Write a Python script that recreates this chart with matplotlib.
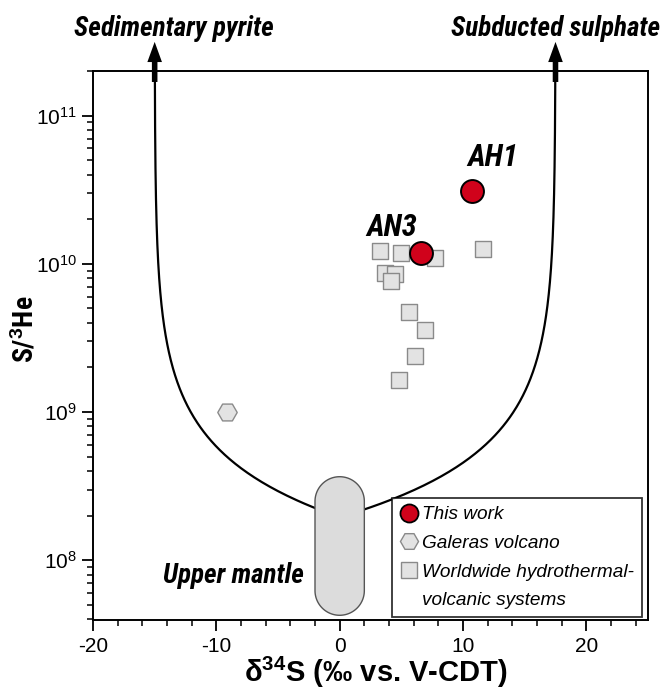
import numpy as np
import matplotlib
matplotlib.use("Agg")
import matplotlib.pyplot as plt
import matplotlib.transforms as mtransforms
from matplotlib.lines import Line2D
from matplotlib.patches import Polygon
from matplotlib.ticker import MultipleLocator

plt.rcParams["font.family"] = ["Liberation Sans", "DejaVu Sans"]
plt.rcParams["axes.unicode_minus"] = False
plt.rcParams["mathtext.fontset"] = "custom"
plt.rcParams["mathtext.rm"] = "Liberation Sans"
plt.rcParams["mathtext.it"] = "Liberation Sans:italic"
plt.rcParams["mathtext.bf"] = "Liberation Sans:bold"
NARROW = ["Roboto Condensed", "Liberation Sans", "DejaVu Sans"]

# worldwide hydrothermal-volcanic systems
world_d34s = [3.3, 5.0, 7.7, 11.6, 3.7, 4.5, 4.2, 5.6, 6.9, 6.1, 4.8]
world_she = [1.22e10, 1.19e10, 1.10e10, 1.26e10, 8.7e9, 8.5e9, 7.6e9,
             4.7e9, 3.6e9, 2.4e9, 1.65e9]

# Galeras volcano
galeras_d34s = [-9.1]
galeras_she = [1.0e9]

# this work
sample_names = ["AN3", "AH1"]
sample_d34s = [6.6, 10.7]
sample_she = [1.19e10, 3.1e10]

# end members for the mixing curves
mantle_d34s = 0.0
mantle_she = 1.95e8
pyrite_d34s = -15.0
sulphate_d34s = 17.5

# upper mantle field
mantle_field_d34s = (-2.0, 2.0)
mantle_field_she = (4.25e7, 3.66e8)

XLIM = (-20, 25)
YLIM = (3.95e7, 2.0e11)

RED = "#d0021b"
GREY = "#e3e3e3"
EDGE = "#8a8a8a"

fig = plt.figure(figsize=(6.63, 6.91), dpi=100)
ax = fig.add_axes([93 / 663, 71 / 691, 555 / 663, 549 / 691])
ax.set_xlim(*XLIM)
ax.set_yscale("log")
ax.set_ylim(*YLIM)

# two-component mixing: mantle + crustal sulphur source
R = np.logspace(np.log10(mantle_she), np.log10(YLIM[1]) + 0.05, 400)
left = pyrite_d34s + (mantle_d34s - pyrite_d34s) * mantle_she / R
right = sulphate_d34s + (mantle_d34s - sulphate_d34s) * mantle_she / R
ax.plot(np.r_[left[::-1], right], np.r_[R[::-1], R], color="black", lw=1.6, zorder=2)

# arrows pointing to the crustal end members
btrans = mtransforms.blended_transform_factory(ax.transData, ax.transAxes)
for xe in (pyrite_d34s, sulphate_d34s):
    ax.annotate("", xy=(xe, 1.053), xytext=(xe, 0.98), xycoords=btrans,
                arrowprops=dict(arrowstyle="simple,head_length=1.45,head_width=1.05,tail_width=0.4",
                                fc="black", ec="black", shrinkA=0, shrinkB=0, lw=0),
                annotation_clip=False, zorder=5)
ax.annotate("Sedimentary pyrite", xy=(pyrite_d34s, 1.078), xycoords=btrans,
            xytext=(14, 0), textcoords="offset points", ha="center", va="center",
            fontsize=19.5, fontweight="bold", style="italic", family=NARROW,
            annotation_clip=False)
ax.annotate("Subducted sulphate", xy=(sulphate_d34s, 1.078), xycoords=btrans,
            ha="center", va="center", fontsize=19.5, fontweight="bold",
            style="italic", family=NARROW, annotation_clip=False)

# upper mantle pill, built in axes fraction so the caps stay round
fig.canvas.draw()
to_axes = ax.transData + ax.transAxes.inverted()
(x0, y0), (x1, y1) = to_axes.transform([(mantle_field_d34s[0], mantle_field_she[0]),
                                        (mantle_field_d34s[1], mantle_field_she[1])])
bb = ax.get_window_extent()
rx = (x1 - x0) / 2
ry = rx * bb.width / bb.height
xc = (x0 + x1) / 2
t = np.linspace(0, np.pi, 60)
top = np.c_[xc + rx * np.cos(t), y1 - ry + ry * np.sin(t)]
bot = np.c_[xc - rx * np.cos(t), y0 + ry - ry * np.sin(t)]
ax.add_patch(Polygon(np.r_[top, bot], closed=True, transform=ax.transAxes,
                     fc="#dcdcdc", ec="#555555", lw=1.0, zorder=3, clip_on=False))
ax.text(-2.9, 7.9e7, "Upper mantle", ha="right", va="center", fontsize=19.5,
        fontweight="bold", style="italic", family=NARROW, zorder=4)

# data points
ax.scatter(world_d34s, world_she, marker="s", s=11 ** 2, fc=GREY, ec=EDGE,
           lw=1.0, zorder=6)
ax.scatter(galeras_d34s, galeras_she, marker="H", s=14 ** 2, fc=GREY, ec=EDGE,
           lw=1.0, zorder=6)
ax.scatter(sample_d34s, sample_she, marker="o", s=16.5 ** 2, fc=RED, ec="black",
           lw=1.4, zorder=7)
for name, xs, ys, off in zip(sample_names, sample_d34s, sample_she,
                             [(-21, 18), (15, 24)]):
    ax.annotate(name, xy=(xs, ys), xytext=off, textcoords="offset points",
                ha="center", va="center", fontsize=22, fontweight="bold",
                style="italic", family=NARROW, zorder=8)

# legend; the blank last handle carries the wrapped second line
handles = [
    Line2D([], [], ls="none", marker="o", ms=13, mfc=RED, mec="black", mew=1.3),
    Line2D([], [], ls="none", marker="H", ms=13, mfc=GREY, mec=EDGE, mew=1.0),
    Line2D([], [], ls="none", marker="s", ms=11, mfc=GREY, mec=EDGE, mew=1.0),
    Line2D([], [], ls="none"),
]
labels = ["This work", "Galeras volcano", "Worldwide hydrothermal-", "volcanic systems"]
leg = ax.legend(handles, labels, loc="lower right", bbox_to_anchor=(0.989, 0.0055),
                borderaxespad=0, frameon=True, fancybox=False, edgecolor="black",
                prop=dict(size=13.7, style="italic"), handlelength=1.0,
                handletextpad=0.2, labelspacing=0.6, borderpad=0.4)
leg.get_frame().set_linewidth(1.3)
leg.set_zorder(9)

# axes styling
ax.xaxis.set_major_locator(MultipleLocator(10))
ax.xaxis.set_minor_locator(MultipleLocator(2))
for s in ax.spines.values():
    s.set_linewidth(1.4)
ax.tick_params(which="major", length=8, width=1.3, labelsize=15, direction="out")
ax.tick_params(which="minor", length=4, width=1.1, direction="out")
ax.tick_params(axis="x", pad=4)

ax.set_xlabel(r"δ$\mathbf{^{34}}$S (‰ vs. V-CDT)", fontsize=21, fontweight="bold")
ax.set_ylabel(r"S/$\mathbf{^{3}}$He", fontsize=20, fontweight="bold", family=NARROW)
ax.xaxis.set_label_coords(0.51, -0.096)
ax.xaxis.label.set_va("center")
ax.yaxis.set_label_coords(-0.1225, 0.53)
ax.yaxis.label.set_va("center")

fig.savefig("out.png", dpi=100)
